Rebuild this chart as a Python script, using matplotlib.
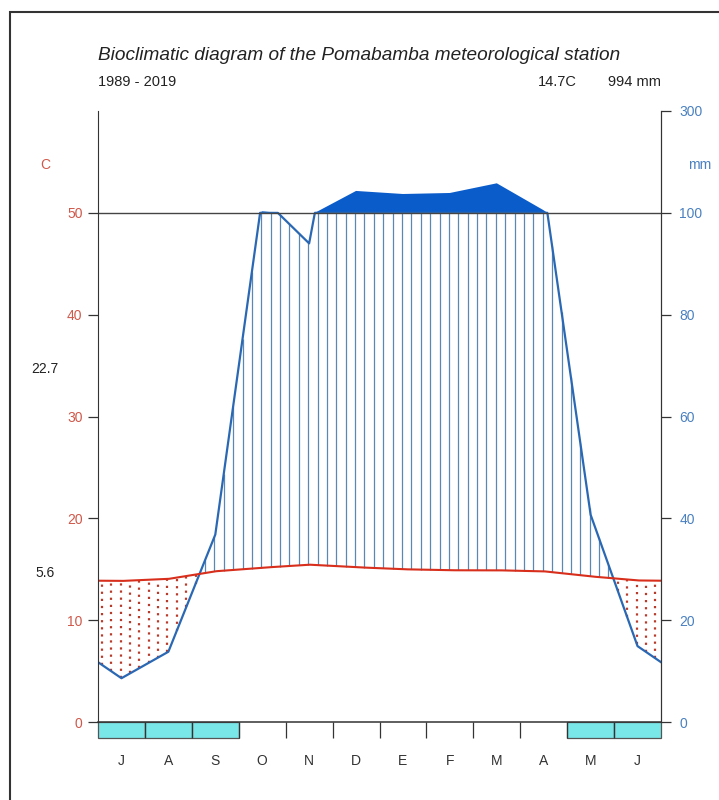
"""Walter-Lieth style climate diagram - Pomabamba station."""
import numpy as np
import matplotlib
matplotlib.use("Agg")
import matplotlib.pyplot as plt
from matplotlib.patches import Rectangle

plt.rcParams["font.family"] = ["Liberation Sans", "DejaVu Sans"]

# monthly data (Jul -> Jun, Spanish initials)
months = ["J", "A", "S", "O", "N", "D", "E", "F", "M", "A", "M", "J"]
precip = [8.6, 13.8, 36.8, 103, 94, 143, 137, 139, 158, 105, 40.7, 14.9]
temp = [13.85, 14.05, 14.8, 15.15, 15.45, 15.2, 15.0, 14.9, 14.9, 14.8, 14.3, 13.9]
frost = [1, 1, 1, 0, 0, 0, 0, 0, 0, 0, 1, 1]
t_max_warm = "22.7"
t_min_cold = "5.6"

TCOL = "#d82e1c"
TLAB = "#d0584a"
PCOL = "#2a68b4"
PFILL = "#0a5ccb"
PLAB = "#4a80c0"
HATCH = "#5a88b4"
FROST = "#79e6e8"


def pscale(p):
    """mm -> temperature scale (2 mm/C up to 100 mm, 20 mm/C above)."""
    p = np.asarray(p, dtype=float)
    return np.where(p <= 100, p / 2, 50 + (p - 100) / 20)


# curve nodes: month centres plus edge values (mean of first/last month)
xn = np.concatenate([[0], np.arange(12) + 0.5, [12]])
pn = np.concatenate([[(precip[0] + precip[-1]) / 2], precip, [(precip[0] + precip[-1]) / 2]])
tn = np.concatenate([[(temp[0] + temp[-1]) / 2], temp, [(temp[0] + temp[-1]) / 2]])

xf = np.linspace(0, 12, 2401)
pf = np.interp(xf, xn, pn)
tf = np.interp(xf, xn, tn)

fig = plt.figure(figsize=(7.19, 8.0), dpi=100)
ax = fig.add_axes([98 / 719, 78 / 800, 563 / 719, 611 / 800])
ax.set_xlim(0, 12)
ax.set_ylim(0, 60)
for s in ["top", "bottom"]:
    ax.spines[s].set_visible(False)
ax.spines["left"].set_color("#333333")
ax.spines["right"].set_color("#333333")

# hatching: humid (blue solid) / dry (red dotted)
xs = np.arange(0.08, 12, 0.2)
ps = np.minimum(pscale(np.interp(xs, xn, pn)), 50)
ts = np.interp(xs, xn, tn)
wet = ps > ts
ax.vlines(xs[wet], ts[wet], ps[wet], color=HATCH, lw=0.9)
ax.vlines(xs[~wet], ps[~wet], ts[~wet], color="#b83a2a", lw=1.6,
          linestyles=[(0, (1, 2.2))])

# precipitation above 100 mm (compressed scale)
ax.fill_between(xf, 50, pscale(pf), where=pf > 100, color=PFILL, lw=0)
ax.plot(xf, np.minimum(pf, 100) / 2, color=PCOL, lw=1.6)
ax.plot(xf, tf, color=TCOL, lw=1.5)

ax.axhline(50, color="#444444", lw=1.0)

# probable frost months
for i, f in enumerate(frost):
    if f:
        ax.add_patch(Rectangle((i, 0), 1, -1.57, facecolor=FROST,
                               edgecolor="#555555", lw=0.9, clip_on=False))
ax.axhline(0, color="#333333", lw=1.1, clip_on=False, zorder=3)

# month boundaries / labels
ax.set_xticks(np.arange(1, 12))
ax.set_xticklabels([])
ax.tick_params(axis="x", which="major", length=11.5, width=0.9,
               color="#333333", direction="out")
ax.set_xticks(np.arange(12) + 0.5, minor=True)
ax.set_xticklabels(months, minor=True)
ax.tick_params(axis="x", which="minor", length=0, pad=23,
               labelsize=10, labelcolor="#333333")

# temperature axis
ax.set_yticks([0, 10, 20, 30, 40, 50])
ax.tick_params(axis="y", length=7.2, width=0.9, color="#333333",
               labelcolor=TLAB, labelsize=10, pad=4)

# precipitation axis
ax2 = ax.twinx()
ax2.set_ylim(0, 60)
for s in ["top", "bottom", "left"]:
    ax2.spines[s].set_visible(False)
ax2.spines["right"].set_color("#333333")
pt = [0, 20, 40, 60, 80, 100, 300]
ax2.set_yticks(pscale(pt))
ax2.set_yticklabels([str(v) for v in pt])
ax2.tick_params(axis="y", length=7.2, width=0.9, color="#333333",
                labelcolor=PLAB, labelsize=10, pad=6)

# texts
fig.text(98 / 719, 1 - 55 / 800,
         "Bioclimatic diagram of the Pomabamba meteorological station",
         fontsize=13.7, style="italic", color="#222222", va="center")
fig.text(98 / 719, 1 - 82 / 800, "1989 - 2019", fontsize=10.5,
         color="#222222", va="center")
fig.text(577 / 719, 1 - 82 / 800, "14.7C", fontsize=10.5, color="#222222",
         va="center", ha="right")
fig.text(661 / 719, 1 - 82 / 800, "994 mm", fontsize=10.5, color="#222222",
         va="center", ha="right")
fig.text(45 / 719, 1 - 165 / 800, "C", fontsize=10, color=TLAB,
         va="center", ha="center")
fig.text(700 / 719, 1 - 165 / 800, "mm", fontsize=10, color=PLAB,
         va="center", ha="center")
fig.text(45 / 719, 1 - 369 / 800, t_max_warm, fontsize=10, color="#222222",
         va="center", ha="center")
fig.text(45 / 719, 1 - 573 / 800, t_min_cold, fontsize=10, color="#222222",
         va="center", ha="center")

# outer frame (cropped on the right and bottom)
fig.add_artist(Rectangle((10 / 719, -0.1), 1.2, 1.1 - 12 / 800,
                         transform=fig.transFigure, fill=False,
                         edgecolor="#333333", lw=1.5))

fig.savefig("out.png", dpi=100, facecolor="white")
